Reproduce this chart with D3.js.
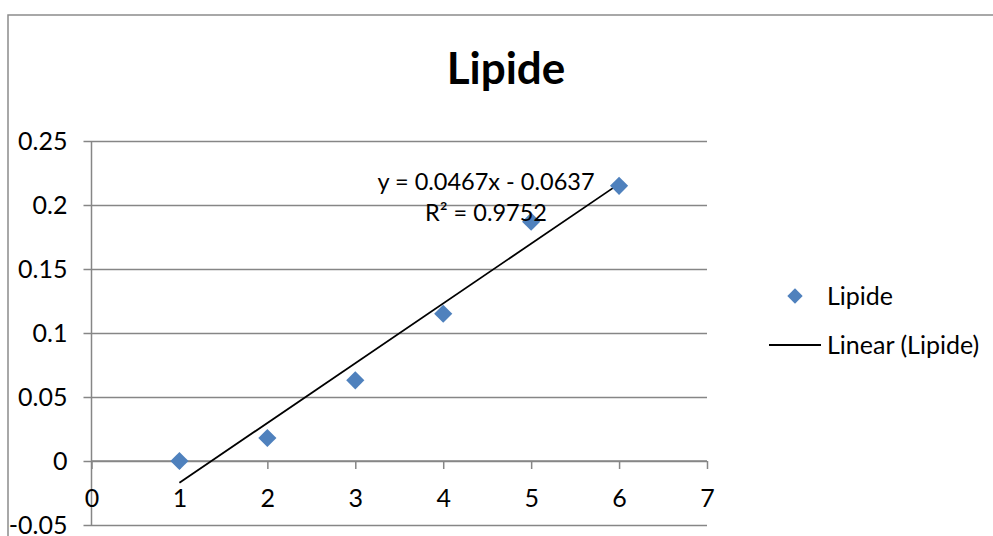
<!DOCTYPE html>
<html>
<head>
<meta charset="utf-8">
<script src="https://cdn.jsdelivr.net/npm/d3@7"></script>
<style>
  body { margin: 0; background: #fff; }
  svg { font-family: Lato, "Open Sans", sans-serif; }
</style>
</head>
<body>
<div id="wrapper"></div>
<script>
// data
const xValues = [1, 2, 3, 4, 5, 6];
const yValues = [0, 0.018, 0.063, 0.115, 0.187, 0.215];
const xTicks = [0, 1, 2, 3, 4, 5, 6, 7];
const yTicks = [-0.05, 0, 0.05, 0.1, 0.15, 0.2, 0.25];
const trendSlope = 0.0467;
const trendIntercept = -0.0637;
const trendLabel = ["y = 0.0467x - 0.0637", "R\u00b2 = 0.9752"];
const seriesName = "Lipide";
const trendName = "Linear (Lipide)";

const dataset = xValues.map((x, i) => ({ x: x, y: yValues[i] }));

let dimensions = {
  width: 993,
  height: 536,
  margin: { top: 141, left: 91.5 },
};
dimensions.boundedWidth = 707 - dimensions.margin.left;
dimensions.boundedHeight = 525 - dimensions.margin.top;

const fontSize = "25px";

const wrapper = d3.select("#wrapper")
  .append("svg")
  .attr("width", dimensions.width)
  .attr("height", dimensions.height);

// outer chart border (runs off the picture on right and bottom)
wrapper.append("rect")
  .attr("x", 8).attr("y", 15)
  .attr("width", 1100).attr("height", 600)
  .attr("fill", "#fff")
  .attr("stroke", "#8c8c8c")
  .attr("stroke-width", 1.5);

const bounds = wrapper.append("g")
  .attr("transform", `translate(${dimensions.margin.left},${dimensions.margin.top})`);

const xScale = d3.scaleLinear().domain([0, 7]).range([0, dimensions.boundedWidth]);
const yScale = d3.scaleLinear().domain([-0.05, 0.25]).range([dimensions.boundedHeight, 0]);

const gridColor = "#868686";

// horizontal gridlines + y axis
const yAxis = bounds.append("g")
  .call(d3.axisLeft(yScale).tickValues(yTicks).tickSize(8).tickPadding(16)
    .tickFormat(d => String(+d.toFixed(2))));
yAxis.select(".domain").attr("stroke", gridColor).attr("stroke-width", 1.5)
  .attr("d", `M0,${yScale(0.25)}V${yScale(-0.05)}`);
yAxis.selectAll(".tick line").attr("stroke", gridColor).attr("stroke-width", 1.5)
  .attr("x1", dimensions.boundedWidth);
yAxis.selectAll(".tick text")
  .attr("fill", "#000")
  .style("font-size", fontSize)
  .style("font-family", "Lato, sans-serif");

// x axis sits at y = 0
const xAxis = bounds.append("g")
  .attr("transform", `translate(0,${yScale(0)})`)
  .call(d3.axisBottom(xScale).tickValues(xTicks).tickSize(8).tickPadding(20)
    .tickFormat(d3.format("d")));
xAxis.select(".domain").attr("stroke", gridColor).attr("stroke-width", 1.5)
  .attr("d", `M0,0H${dimensions.boundedWidth}`);
xAxis.selectAll(".tick line").attr("stroke", gridColor).attr("stroke-width", 1.5);
xAxis.selectAll(".tick text")
  .attr("fill", "#000")
  .style("font-size", fontSize)
  .style("font-family", "Lato, sans-serif");

// trendline
const trendLine = d3.line()
  .x(d => xScale(d))
  .y(d => yScale(trendSlope * d + trendIntercept));
bounds.append("path")
  .attr("d", trendLine([xValues[0], xValues[xValues.length - 1]]))
  .attr("fill", "none")
  .attr("stroke", "#000")
  .attr("stroke-width", 1.8);

// markers
const diamond = d3.symbol().type(d3.symbolDiamond2).size(210);
bounds.selectAll(".pt")
  .data(dataset)
  .enter()
  .append("path")
  .attr("class", "pt")
  .attr("d", diamond)
  .attr("transform", d => `translate(${xScale(d.x)},${yScale(d.y)})`)
  .attr("fill", "#4F81BD");

// trend equation
wrapper.append("text")
  .attr("x", 486).attr("y", 190)
  .attr("text-anchor", "middle")
  .style("font-size", "23.5px")
  .text(trendLabel[0]);
wrapper.append("text")
  .attr("x", 486).attr("y", 221)
  .attr("text-anchor", "middle")
  .style("font-size", "23.5px")
  .text(trendLabel[1]);

// title
wrapper.append("text")
  .attr("x", 506).attr("y", 84)
  .attr("text-anchor", "middle")
  .style("font-size", "44px")
  .style("font-weight", "bold")
  .text(seriesName);

// legend
const legend = wrapper.append("g");
legend.append("path")
  .attr("d", d3.symbol().type(d3.symbolDiamond2).size(150))
  .attr("transform", "translate(795,296)")
  .attr("fill", "#4F81BD");
legend.append("text")
  .attr("x", 827).attr("y", 305)
  .style("font-size", fontSize)
  .text(seriesName);
legend.append("line")
  .attr("x1", 769).attr("x2", 821)
  .attr("y1", 345).attr("y2", 345)
  .attr("stroke", "#000").attr("stroke-width", 1.8);
legend.append("text")
  .attr("x", 827).attr("y", 354)
  .style("font-size", fontSize)
  .text(trendName);
</script>
</body>
</html>
